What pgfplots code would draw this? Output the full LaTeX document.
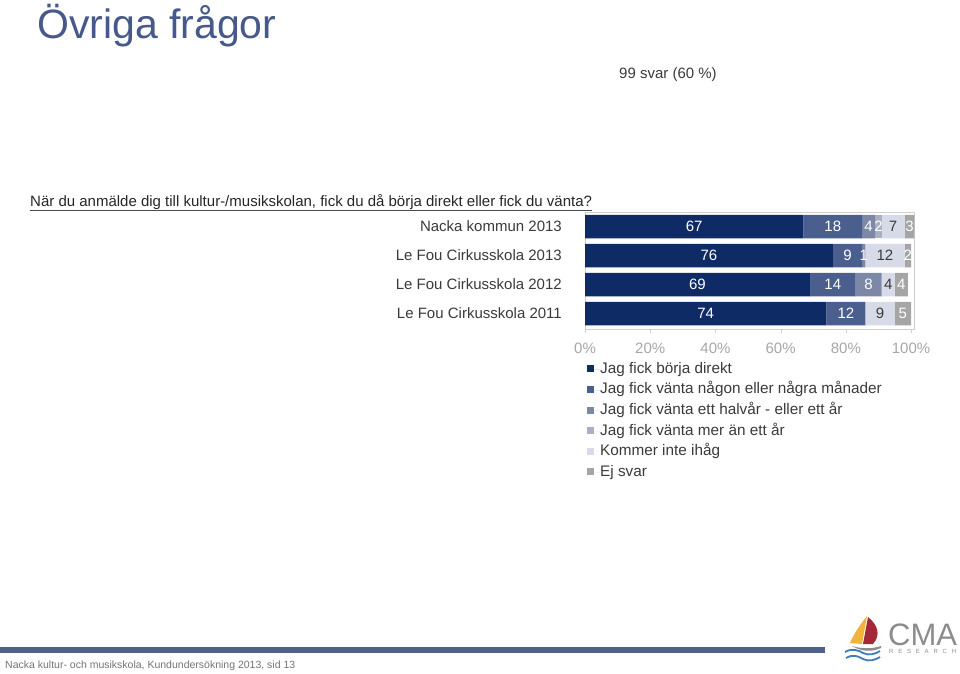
\documentclass[border=0pt]{standalone}
\usepackage{fontspec}
\setmainfont{Liberation Sans}
\newfontfamily\spacedfont[LetterSpace=80]{Liberation Sans}
\usepackage{pgfplots}
\pgfplotsset{compat=1.18}
\definecolor{c1}{HTML}{0F2B66}
\definecolor{c2}{HTML}{4B5F8E}
\definecolor{c3}{HTML}{7D88A6}
\definecolor{c4}{HTML}{A9B0C4}
\definecolor{c5}{HTML}{D6DBE7}
\definecolor{c6}{HTML}{A5A5A5}
\definecolor{titlecol}{HTML}{46598A}
\definecolor{darktext}{HTML}{3A3A3A}
\definecolor{ticktext}{HTML}{A6A6A6}
\definecolor{axgray}{HTML}{D0D0D0}
\definecolor{footbar}{HTML}{4E6189}
\definecolor{logoyellow}{HTML}{F2B33D}
\definecolor{logored}{HTML}{A3293A}
\definecolor{logoblue}{HTML}{3D7DB8}
\definecolor{logogray}{HTML}{8C8C8C}
\begin{document}
\begin{tikzpicture}[x=1pt,y=1pt]
\useasboundingbox (0,0) rectangle (960,673);
% title and texts
\node[anchor=base west, inner sep=0pt, font=\fontsize{41}{45}\selectfont, text=titlecol] at (37,634) {Övriga frågor};
\node[anchor=base west, inner sep=0pt, font=\fontsize{15}{18}\selectfont, text=darktext] at (619,594) {99 svar (60 \%)};
\node[anchor=base west, inner sep=0pt, font=\fontsize{15}{18}\selectfont, text=black!85] (q) at (30,466) {När du anmälde dig till kultur-/musikskolan, fick du då börja direkt eller fick du vänta?};
\draw[black!70, line width=0.6pt] (30,463) -- (q.south east |- 0,463);
% footer
\fill[footbar] (0,20) rectangle (825,26);
\node[anchor=base west, inner sep=0pt, font=\fontsize{10.5}{12}\selectfont, text=black!55] at (5,5) {Nacka kultur- och musikskola, Kundundersökning 2013, sid 13};
% logo
\fill[logoyellow] (867,57) .. controls (858,46) and (853,37) .. (850,30) -- (862,29) -- cycle;
\fill[logored] (868,56) .. controls (878,48) and (881,38) .. (873,29) -- (863,29) -- cycle;
\fill[logogray] (852,27) .. controls (862,24) and (872,24) .. (881,27) -- (881,25) .. controls (872,21) and (862,21) .. (852,27) -- cycle;
\draw[logoblue, line width=1.8pt] (845,21) .. controls (852,25) and (858,23) .. (863,20) .. controls (869,17) and (875,19) .. (880,22);
\draw[logoblue, line width=1.8pt] (846,15) .. controls (853,19) and (858,17) .. (863,14) .. controls (869,11) and (875,13) .. (880,16);
\node[anchor=base west, inner sep=0pt, font=\fontsize{31}{31}\selectfont, text=logogray] at (888,28) {CMA};
\node[anchor=base west, inner sep=0pt, font=\spacedfont\fontsize{6}{6}\selectfont, text=logogray] at (889,19.7) {RESEARCH};
% chart
\begin{axis}[
  at={(585pt,344pt)}, anchor=south west,
  scale only axis, width=329.3pt, height=117pt,
  xbar stacked, bar width=23.5pt,
  xmin=0, xmax=101, ymin=-0.53, ymax=3.5,
  ytick={0,1,2,3},
  yticklabels={Le Fou Cirkusskola 2011, Le Fou Cirkusskola 2012, Le Fou Cirkusskola 2013, Nacka kommun 2013},
  xtick={0,20,40,60,80,100},
  xticklabels={0\%,20\%,40\%,60\%,80\%,100\%},
  xtick pos=bottom,
  /pgf/number format/assume math mode=true,
  axis line style={draw=axgray},
  tick align=outside, major tick length=4pt,
  xtick style={draw=axgray},
  ytick style={draw=none},
  xticklabel style={font=\fontsize{15}{18}\selectfont, text=ticktext, yshift=-6pt},
  yticklabel style={font=\fontsize{15}{18}\selectfont, text=darktext, inner sep=0pt, xshift=-19pt},
  point meta=rawx,
  nodes near coords={\pgfmathfloatifflags{\pgfplotspointmeta}{0}{}{\pgfmathprintnumber{\pgfplotspointmeta}}},
  nodes near coords style={anchor=center, text=white, font=\fontsize{15}{18}\selectfont},
  legend style={at={(rel axis cs:0,0)}, anchor=north west, xshift=-1pt, yshift=-31pt,
    draw=none, fill=none, font=\fontsize{15.3}{18}\selectfont, text=darktext,
    nodes={inner sep=0pt, text height=11pt, text depth=3.5pt}, row sep=6.1pt},
  legend cell align=left,
  legend image code/.code={\fill[#1] (0pt,-3pt) rectangle (7pt,4pt); \path (0pt,0pt) -- (13pt,0pt);},
]
\addplot[fill=c1, draw=none] coordinates {(67,3) (76,2) (69,1) (74,0)};
\addplot[fill=c2, draw=none] coordinates {(18,3) (9,2) (14,1) (12,0)};
\addplot[fill=c3, draw=none] coordinates {(4,3) (1,2) (8,1) (0,0)};
\addplot[fill=c4, draw=none] coordinates {(2,3) (0,2) (0,1) (0,0)};
\addplot[fill=c5, draw=none, every node near coord/.append style={text=darktext}] coordinates {(7,3) (12,2) (4,1) (9,0)};
\addplot[fill=c6, draw=none] coordinates {(3,3) (2,2) (4,1) (5,0)};
\legend{Jag fick börja direkt, Jag fick vänta någon eller några månader, Jag fick vänta ett halvår - eller ett år, Jag fick vänta mer än ett år, Kommer inte ihåg, Ej svar}
\end{axis}
\end{tikzpicture}
\end{document}
